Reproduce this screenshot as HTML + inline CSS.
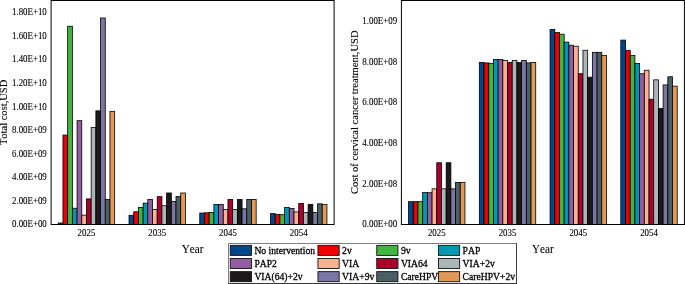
<!DOCTYPE html>
<html><head><meta charset="utf-8"><title>chart</title>
<style>
html,body{margin:0;padding:0;background:#fff;}
body{width:685px;height:284px;overflow:hidden;}
svg{display:block;will-change:transform;font-family:"Liberation Serif",serif;}
text{fill:#000;font-kerning:none;stroke:#000;stroke-width:0.1px;}
</style></head><body>
<svg width="685" height="284" viewBox="0 0 685 284">
<rect x="0" y="0" width="685" height="284" fill="#fff"/>
<g id="left">
<rect x="58.27" y="222.97" width="4.70" height="1.53" fill="#00468B" stroke="#000" stroke-width="0.8"/>
<rect x="62.97" y="135.06" width="4.70" height="89.44" fill="#ED0000" stroke="#000" stroke-width="0.8"/>
<rect x="67.67" y="26.26" width="4.70" height="198.24" fill="#42B540" stroke="#000" stroke-width="0.8"/>
<rect x="72.38" y="208.22" width="4.70" height="16.28" fill="#0099B4" stroke="#000" stroke-width="0.8"/>
<rect x="77.07" y="120.66" width="4.70" height="103.84" fill="#925E9F" stroke="#000" stroke-width="0.8"/>
<rect x="81.77" y="215.18" width="4.70" height="9.32" fill="#FDAF91" stroke="#000" stroke-width="0.8"/>
<rect x="86.47" y="198.89" width="4.70" height="25.61" fill="#AD002A" stroke="#000" stroke-width="0.8"/>
<rect x="91.17" y="127.39" width="4.70" height="97.11" fill="#ADB6B6" stroke="#000" stroke-width="0.8"/>
<rect x="95.88" y="110.87" width="4.70" height="113.63" fill="#1B1919" stroke="#000" stroke-width="0.8"/>
<rect x="100.57" y="18.00" width="4.70" height="206.50" fill="#7976A5" stroke="#000" stroke-width="0.8"/>
<rect x="105.27" y="199.37" width="4.70" height="25.13" fill="#4B5F66" stroke="#000" stroke-width="0.8"/>
<rect x="109.97" y="111.34" width="4.70" height="113.16" fill="#E29958" stroke="#000" stroke-width="0.8"/>
<rect x="129.02" y="215.30" width="4.70" height="9.20" fill="#00468B" stroke="#000" stroke-width="0.8"/>
<rect x="133.72" y="211.76" width="4.70" height="12.74" fill="#ED0000" stroke="#000" stroke-width="0.8"/>
<rect x="138.42" y="207.39" width="4.70" height="17.11" fill="#42B540" stroke="#000" stroke-width="0.8"/>
<rect x="143.12" y="203.14" width="4.70" height="21.36" fill="#0099B4" stroke="#000" stroke-width="0.8"/>
<rect x="147.82" y="199.48" width="4.70" height="25.02" fill="#925E9F" stroke="#000" stroke-width="0.8"/>
<rect x="152.52" y="209.40" width="4.70" height="15.10" fill="#FDAF91" stroke="#000" stroke-width="0.8"/>
<rect x="157.22" y="196.65" width="4.70" height="27.85" fill="#AD002A" stroke="#000" stroke-width="0.8"/>
<rect x="161.92" y="205.74" width="4.70" height="18.76" fill="#ADB6B6" stroke="#000" stroke-width="0.8"/>
<rect x="166.62" y="192.99" width="4.70" height="31.51" fill="#1B1919" stroke="#000" stroke-width="0.8"/>
<rect x="171.32" y="201.49" width="4.70" height="23.01" fill="#7976A5" stroke="#000" stroke-width="0.8"/>
<rect x="176.02" y="196.53" width="4.70" height="27.97" fill="#4B5F66" stroke="#000" stroke-width="0.8"/>
<rect x="180.72" y="192.99" width="4.70" height="31.51" fill="#E29958" stroke="#000" stroke-width="0.8"/>
<rect x="199.77" y="213.05" width="4.70" height="11.45" fill="#00468B" stroke="#000" stroke-width="0.8"/>
<rect x="204.47" y="212.82" width="4.70" height="11.68" fill="#ED0000" stroke="#000" stroke-width="0.8"/>
<rect x="209.17" y="212.46" width="4.70" height="12.04" fill="#42B540" stroke="#000" stroke-width="0.8"/>
<rect x="213.87" y="204.56" width="4.70" height="19.94" fill="#0099B4" stroke="#000" stroke-width="0.8"/>
<rect x="218.57" y="204.56" width="4.70" height="19.94" fill="#925E9F" stroke="#000" stroke-width="0.8"/>
<rect x="223.27" y="209.40" width="4.70" height="15.10" fill="#FDAF91" stroke="#000" stroke-width="0.8"/>
<rect x="227.97" y="199.48" width="4.70" height="25.02" fill="#AD002A" stroke="#000" stroke-width="0.8"/>
<rect x="232.67" y="209.40" width="4.70" height="15.10" fill="#ADB6B6" stroke="#000" stroke-width="0.8"/>
<rect x="237.37" y="199.48" width="4.70" height="25.02" fill="#1B1919" stroke="#000" stroke-width="0.8"/>
<rect x="242.07" y="208.81" width="4.70" height="15.69" fill="#7976A5" stroke="#000" stroke-width="0.8"/>
<rect x="246.77" y="199.48" width="4.70" height="25.02" fill="#4B5F66" stroke="#000" stroke-width="0.8"/>
<rect x="251.47" y="199.48" width="4.70" height="25.02" fill="#E29958" stroke="#000" stroke-width="0.8"/>
<rect x="270.53" y="213.64" width="4.70" height="10.86" fill="#00468B" stroke="#000" stroke-width="0.8"/>
<rect x="275.23" y="214.35" width="4.70" height="10.15" fill="#ED0000" stroke="#000" stroke-width="0.8"/>
<rect x="279.93" y="214.71" width="4.70" height="9.79" fill="#42B540" stroke="#000" stroke-width="0.8"/>
<rect x="284.63" y="207.39" width="4.70" height="17.11" fill="#0099B4" stroke="#000" stroke-width="0.8"/>
<rect x="289.33" y="208.45" width="4.70" height="16.05" fill="#925E9F" stroke="#000" stroke-width="0.8"/>
<rect x="294.03" y="211.87" width="4.70" height="12.63" fill="#FDAF91" stroke="#000" stroke-width="0.8"/>
<rect x="298.73" y="203.50" width="4.70" height="21.00" fill="#AD002A" stroke="#000" stroke-width="0.8"/>
<rect x="303.43" y="212.46" width="4.70" height="12.04" fill="#ADB6B6" stroke="#000" stroke-width="0.8"/>
<rect x="308.13" y="204.32" width="4.70" height="20.18" fill="#1B1919" stroke="#000" stroke-width="0.8"/>
<rect x="312.83" y="212.46" width="4.70" height="12.04" fill="#7976A5" stroke="#000" stroke-width="0.8"/>
<rect x="317.53" y="203.85" width="4.70" height="20.65" fill="#4B5F66" stroke="#000" stroke-width="0.8"/>
<rect x="322.23" y="204.56" width="4.70" height="19.94" fill="#E29958" stroke="#000" stroke-width="0.8"/>
<rect x="51.10" y="0.5" width="283.00" height="224.0" fill="none" stroke="#000" stroke-width="1"/>
<text transform="translate(46.80,227.45) scale(0.945,1)" text-anchor="end" font-size="9.4">0.00E+00</text>
<text transform="translate(46.80,203.88) scale(0.945,1)" text-anchor="end" font-size="9.4">2.00E+09</text>
<text transform="translate(46.80,180.31) scale(0.945,1)" text-anchor="end" font-size="9.4">4.00E+09</text>
<text transform="translate(46.80,156.74) scale(0.945,1)" text-anchor="end" font-size="9.4">6.00E+09</text>
<text transform="translate(46.80,133.17) scale(0.945,1)" text-anchor="end" font-size="9.4">8.00E+09</text>
<text transform="translate(46.80,109.60) scale(0.945,1)" text-anchor="end" font-size="9.4">1.00E+10</text>
<text transform="translate(46.80,86.03) scale(0.945,1)" text-anchor="end" font-size="9.4">1.20E+10</text>
<text transform="translate(46.80,62.46) scale(0.945,1)" text-anchor="end" font-size="9.4">1.40E+10</text>
<text transform="translate(46.80,38.89) scale(0.945,1)" text-anchor="end" font-size="9.4">1.60E+10</text>
<text transform="translate(46.80,15.32) scale(0.945,1)" text-anchor="end" font-size="9.4">1.80E+10</text>
<text transform="translate(86.47,236.3) scale(0.945,1)" text-anchor="middle" font-size="9.4">2025</text>
<text transform="translate(157.22,236.3) scale(0.945,1)" text-anchor="middle" font-size="9.4">2035</text>
<text transform="translate(227.97,236.3) scale(0.945,1)" text-anchor="middle" font-size="9.4">2045</text>
<text transform="translate(298.73,236.3) scale(0.945,1)" text-anchor="middle" font-size="9.4">2054</text>
<text transform="translate(192.60,253.1) scale(0.915,1)" text-anchor="middle" font-size="12.2">Year</text>
<text transform="translate(7.2,112.4) rotate(-90) scale(1,0.95)" text-anchor="middle" font-size="10.52">Total cost,USD</text>
</g>
<g id="right">
<rect x="408.57" y="201.68" width="4.70" height="22.82" fill="#00468B" stroke="#000" stroke-width="0.8"/>
<rect x="413.27" y="201.68" width="4.70" height="22.82" fill="#ED0000" stroke="#000" stroke-width="0.8"/>
<rect x="417.97" y="201.68" width="4.70" height="22.82" fill="#42B540" stroke="#000" stroke-width="0.8"/>
<rect x="422.68" y="192.51" width="4.70" height="31.99" fill="#0099B4" stroke="#000" stroke-width="0.8"/>
<rect x="427.38" y="192.72" width="4.70" height="31.79" fill="#925E9F" stroke="#000" stroke-width="0.8"/>
<rect x="432.07" y="188.84" width="4.70" height="35.66" fill="#FDAF91" stroke="#000" stroke-width="0.8"/>
<rect x="436.77" y="162.76" width="4.70" height="61.74" fill="#AD002A" stroke="#000" stroke-width="0.8"/>
<rect x="441.47" y="188.84" width="4.70" height="35.66" fill="#ADB6B6" stroke="#000" stroke-width="0.8"/>
<rect x="446.18" y="162.76" width="4.70" height="61.74" fill="#1B1919" stroke="#000" stroke-width="0.8"/>
<rect x="450.88" y="188.84" width="4.70" height="35.66" fill="#7976A5" stroke="#000" stroke-width="0.8"/>
<rect x="455.57" y="182.53" width="4.70" height="41.97" fill="#4B5F66" stroke="#000" stroke-width="0.8"/>
<rect x="460.27" y="182.53" width="4.70" height="41.97" fill="#E29958" stroke="#000" stroke-width="0.8"/>
<rect x="479.32" y="62.52" width="4.70" height="161.98" fill="#00468B" stroke="#000" stroke-width="0.8"/>
<rect x="484.02" y="62.93" width="4.70" height="161.57" fill="#ED0000" stroke="#000" stroke-width="0.8"/>
<rect x="488.72" y="63.33" width="4.70" height="161.17" fill="#42B540" stroke="#000" stroke-width="0.8"/>
<rect x="493.43" y="59.46" width="4.70" height="165.04" fill="#0099B4" stroke="#000" stroke-width="0.8"/>
<rect x="498.12" y="59.46" width="4.70" height="165.04" fill="#925E9F" stroke="#000" stroke-width="0.8"/>
<rect x="502.82" y="60.48" width="4.70" height="164.02" fill="#FDAF91" stroke="#000" stroke-width="0.8"/>
<rect x="507.52" y="62.52" width="4.70" height="161.98" fill="#AD002A" stroke="#000" stroke-width="0.8"/>
<rect x="512.23" y="60.48" width="4.70" height="164.02" fill="#ADB6B6" stroke="#000" stroke-width="0.8"/>
<rect x="516.92" y="62.52" width="4.70" height="161.98" fill="#1B1919" stroke="#000" stroke-width="0.8"/>
<rect x="521.62" y="60.48" width="4.70" height="164.02" fill="#7976A5" stroke="#000" stroke-width="0.8"/>
<rect x="526.33" y="62.93" width="4.70" height="161.57" fill="#4B5F66" stroke="#000" stroke-width="0.8"/>
<rect x="531.02" y="62.52" width="4.70" height="161.98" fill="#E29958" stroke="#000" stroke-width="0.8"/>
<rect x="550.07" y="29.51" width="4.70" height="194.99" fill="#00468B" stroke="#000" stroke-width="0.8"/>
<rect x="554.77" y="32.57" width="4.70" height="191.93" fill="#ED0000" stroke="#000" stroke-width="0.8"/>
<rect x="559.47" y="34.20" width="4.70" height="190.30" fill="#42B540" stroke="#000" stroke-width="0.8"/>
<rect x="564.17" y="42.14" width="4.70" height="182.36" fill="#0099B4" stroke="#000" stroke-width="0.8"/>
<rect x="568.87" y="45.20" width="4.70" height="179.30" fill="#925E9F" stroke="#000" stroke-width="0.8"/>
<rect x="573.57" y="46.22" width="4.70" height="178.28" fill="#FDAF91" stroke="#000" stroke-width="0.8"/>
<rect x="578.27" y="73.72" width="4.70" height="150.78" fill="#AD002A" stroke="#000" stroke-width="0.8"/>
<rect x="582.97" y="50.29" width="4.70" height="174.21" fill="#ADB6B6" stroke="#000" stroke-width="0.8"/>
<rect x="587.67" y="77.19" width="4.70" height="147.31" fill="#1B1919" stroke="#000" stroke-width="0.8"/>
<rect x="592.37" y="52.33" width="4.70" height="172.17" fill="#7976A5" stroke="#000" stroke-width="0.8"/>
<rect x="597.07" y="52.33" width="4.70" height="172.17" fill="#4B5F66" stroke="#000" stroke-width="0.8"/>
<rect x="601.77" y="55.39" width="4.70" height="169.11" fill="#E29958" stroke="#000" stroke-width="0.8"/>
<rect x="620.82" y="40.11" width="4.70" height="184.39" fill="#00468B" stroke="#000" stroke-width="0.8"/>
<rect x="625.52" y="50.29" width="4.70" height="174.21" fill="#ED0000" stroke="#000" stroke-width="0.8"/>
<rect x="630.22" y="55.39" width="4.70" height="169.11" fill="#42B540" stroke="#000" stroke-width="0.8"/>
<rect x="634.92" y="63.54" width="4.70" height="160.96" fill="#0099B4" stroke="#000" stroke-width="0.8"/>
<rect x="639.62" y="73.72" width="4.70" height="150.78" fill="#925E9F" stroke="#000" stroke-width="0.8"/>
<rect x="644.32" y="70.26" width="4.70" height="154.24" fill="#FDAF91" stroke="#000" stroke-width="0.8"/>
<rect x="649.02" y="99.19" width="4.70" height="125.31" fill="#AD002A" stroke="#000" stroke-width="0.8"/>
<rect x="653.72" y="79.84" width="4.70" height="144.66" fill="#ADB6B6" stroke="#000" stroke-width="0.8"/>
<rect x="658.42" y="108.36" width="4.70" height="116.14" fill="#1B1919" stroke="#000" stroke-width="0.8"/>
<rect x="663.12" y="84.93" width="4.70" height="139.57" fill="#7976A5" stroke="#000" stroke-width="0.8"/>
<rect x="667.82" y="76.78" width="4.70" height="147.72" fill="#4B5F66" stroke="#000" stroke-width="0.8"/>
<rect x="672.52" y="86.15" width="4.70" height="138.35" fill="#E29958" stroke="#000" stroke-width="0.8"/>
<rect x="401.40" y="0.5" width="283.00" height="224.0" fill="none" stroke="#000" stroke-width="1"/>
<text transform="translate(397.10,227.45) scale(0.945,1)" text-anchor="end" font-size="9.4">0.00E+00</text>
<text transform="translate(397.10,186.76) scale(0.945,1)" text-anchor="end" font-size="9.4">2.00E+08</text>
<text transform="translate(397.10,146.07) scale(0.945,1)" text-anchor="end" font-size="9.4">4.00E+08</text>
<text transform="translate(397.10,105.38) scale(0.945,1)" text-anchor="end" font-size="9.4">6.00E+08</text>
<text transform="translate(397.10,64.69) scale(0.945,1)" text-anchor="end" font-size="9.4">8.00E+08</text>
<text transform="translate(397.10,24.00) scale(0.945,1)" text-anchor="end" font-size="9.4">1.00E+09</text>
<text transform="translate(436.77,236.3) scale(0.945,1)" text-anchor="middle" font-size="9.4">2025</text>
<text transform="translate(507.52,236.3) scale(0.945,1)" text-anchor="middle" font-size="9.4">2035</text>
<text transform="translate(578.27,236.3) scale(0.945,1)" text-anchor="middle" font-size="9.4">2045</text>
<text transform="translate(649.02,236.3) scale(0.945,1)" text-anchor="middle" font-size="9.4">2054</text>
<text transform="translate(542.90,253.1) scale(0.915,1)" text-anchor="middle" font-size="12.2">Year</text>
<text transform="translate(357.5,112.2) rotate(-90) scale(1,0.95)" text-anchor="middle" font-size="10.59">Cost of cervical cancer treatment,USD</text>
</g>
<g id="legend">
<rect x="228" y="243" width="289" height="41" fill="#fff"/>
<rect x="228" y="243" width="289" height="1" fill="#808080"/>
<rect x="228" y="243" width="1" height="41" fill="#808080"/>
<rect x="516" y="243" width="1" height="41" fill="#3c3c3c"/>
<rect x="228" y="283" width="289" height="1" fill="#363636"/>
<rect x="230.25" y="245.35" width="21.2" height="10.05" fill="#00468B" stroke="#111" stroke-width="0.9"/>
<text x="254.40" y="253.75" font-size="9.65" style="stroke-width:0.28px">No intervention</text>
<rect x="317.95" y="245.35" width="21.2" height="10.05" fill="#ED0000" stroke="#111" stroke-width="0.9"/>
<text x="342.10" y="253.75" font-size="9.65" style="stroke-width:0.28px">2v</text>
<rect x="376.75" y="245.35" width="21.2" height="10.05" fill="#42B540" stroke="#111" stroke-width="0.9"/>
<text x="400.90" y="253.75" font-size="9.65" style="stroke-width:0.28px">9v</text>
<rect x="438.45" y="245.35" width="21.2" height="10.05" fill="#0099B4" stroke="#111" stroke-width="0.9"/>
<text x="462.60" y="253.75" font-size="9.65" style="stroke-width:0.28px">PAP</text>
<rect x="230.25" y="258.50" width="21.2" height="10.05" fill="#925E9F" stroke="#111" stroke-width="0.9"/>
<text x="254.40" y="266.90" font-size="9.65" style="stroke-width:0.28px">PAP2</text>
<rect x="317.95" y="258.50" width="21.2" height="10.05" fill="#FDAF91" stroke="#111" stroke-width="0.9"/>
<text x="342.10" y="266.90" font-size="9.65" style="stroke-width:0.28px">VIA</text>
<rect x="376.75" y="258.50" width="21.2" height="10.05" fill="#AD002A" stroke="#111" stroke-width="0.9"/>
<text x="400.90" y="266.90" font-size="9.65" style="stroke-width:0.28px">VIA64</text>
<rect x="438.45" y="258.50" width="21.2" height="10.05" fill="#ADB6B6" stroke="#111" stroke-width="0.9"/>
<text x="462.60" y="266.90" font-size="9.65" style="stroke-width:0.28px">VIA+2v</text>
<rect x="230.25" y="271.65" width="21.2" height="10.05" fill="#1B1919" stroke="#111" stroke-width="0.9"/>
<text x="254.40" y="280.05" font-size="9.65" style="stroke-width:0.28px">VIA(64)+2v</text>
<rect x="317.95" y="271.65" width="21.2" height="10.05" fill="#7976A5" stroke="#111" stroke-width="0.9"/>
<text x="342.10" y="280.05" font-size="9.65" style="stroke-width:0.28px">VIA+9v</text>
<rect x="376.75" y="271.65" width="21.2" height="10.05" fill="#4B5F66" stroke="#111" stroke-width="0.9"/>
<text x="400.90" y="280.05" font-size="9.65" style="stroke-width:0.28px">CareHPV</text>
<rect x="438.45" y="271.65" width="21.2" height="10.05" fill="#E29958" stroke="#111" stroke-width="0.9"/>
<text x="462.60" y="280.05" font-size="9.65" style="stroke-width:0.28px">CareHPV+2v</text>
</g>
</svg>
</body></html>
